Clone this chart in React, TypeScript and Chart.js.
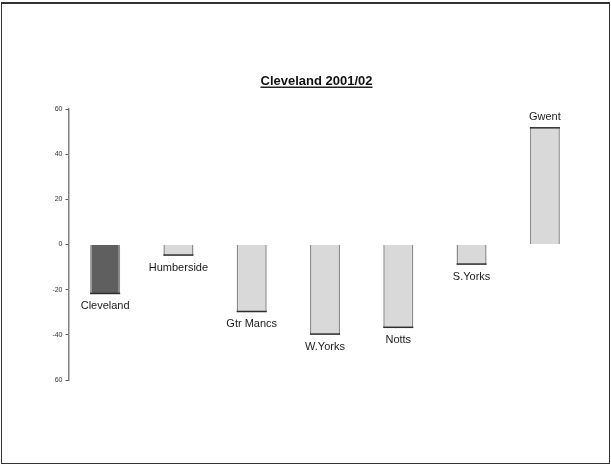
import React, { useEffect, useRef } from "react";
import { Chart, registerables } from "chart.js";

Chart.register(...registerables);

const categories = ["Cleveland", "Humberside", "Gtr Mancs", "W.Yorks", "Notts", "S.Yorks", "Gwent"];
const values = [-22, -5, -30, -40, -37, -9, 52];
const barColors = ["#5f5f5f", "#d9d9d9", "#d9d9d9", "#d9d9d9", "#d9d9d9", "#d9d9d9", "#d9d9d9"];
const tickValues = [60, 40, 20, 0, -20, -40, -60];
const tickLabels = ["60", "40", "20", "0", "-20", "-40", "60"];
const titleText = "Cleveland 2001/02";

const barLabelPlugin = {
  id: "barLabels",
  afterDatasetsDraw(chart: any) {
    const ctx = chart.ctx;
    const meta = chart.getDatasetMeta(0);
    ctx.save();
    // dark end edge of each bar
    meta.data.forEach((el: any) => {
      const half = el.width / 2;
      ctx.fillStyle = "#2e2e2e";
      const v = values[meta.data.indexOf(el)];
      const yy = v < 0 ? el.y - 1.5 : el.y;
      ctx.fillRect(el.x - half, yy, el.width, 1.5);
    });
    ctx.font = "11px 'Liberation Sans', Arial, sans-serif";
    ctx.fillStyle = "#1a1a1a";
    ctx.textAlign = "center";
    ctx.textBaseline = "middle";
    meta.data.forEach((el: any, i: number) => {
      const v = values[i];
      const y = v < 0 ? el.y + 12 : el.y - 10;
      ctx.fillText(categories[i], el.x, y);
    });
    ctx.restore();
  },
};

const titlePlugin = {
  id: "underlinedTitle",
  afterDraw(chart: any) {
    const ctx = chart.ctx;
    ctx.save();
    ctx.font = "bold 13px 'Liberation Sans', Arial, sans-serif";
    ctx.fillStyle = "#111";
    ctx.textAlign = "center";
    ctx.textBaseline = "alphabetic";
    const cx = 316.5;
    const by = 85;
    ctx.fillText(titleText, cx, by);
    const w = ctx.measureText(titleText).width;
    ctx.fillStyle = "#222";
    ctx.fillRect(cx - w / 2, by + 1.5, w, 1.5);
    ctx.restore();
  },
};

export default function App() {
  const ref = useRef<HTMLCanvasElement | null>(null);
  useEffect(() => {
    if (!ref.current) return;
    const chart = new Chart(ref.current, {
      type: "bar",
      data: {
        labels: categories,
        datasets: [
          {
            data: values,
            backgroundColor: barColors,
            borderColor: "#8c8c8c",
            borderWidth: { top: 0, bottom: 0, left: 1.5, right: 1.5 },
            borderSkipped: false,
            barPercentage: 0.41,
            categoryPercentage: 1,
          } as any,
        ],
      },
      options: {
        animation: false,
        responsive: false,
        maintainAspectRatio: false,
        layout: { padding: { left: 0, right: 29.5, top: 109, bottom: 84 } },
        plugins: {
          legend: { display: false },
          title: { display: false },
          tooltip: { enabled: false },
        },
        scales: {
          x: { display: false },
          y: {
            min: -60,
            max: 60,
            afterFit: (s: any) => {
              s.width = 68.5;
            },
            afterBuildTicks: (s: any) => {
              s.ticks = tickValues.map((v) => ({ value: v }));
            },
            border: { display: true, color: "#808080", width: 1.5 },
            grid: {
              drawOnChartArea: false,
              drawTicks: true,
              tickLength: 3,
              color: "#555",
              lineWidth: 1,
            },
            ticks: {
              padding: 3,
              color: "#333",
              font: { size: 7, family: "'Liberation Sans', Arial, sans-serif" },
              callback: (v: any) => {
                const i = tickValues.indexOf(Number(v));
                return i >= 0 ? tickLabels[i] : "";
              },
            },
          },
        },
      },
      plugins: [barLabelPlugin, titlePlugin],
    });
    return () => chart.destroy();
  }, []);
  return (
    <div style={{ position: "fixed", left: 0, top: 0, width: 611, height: 464, background: "#fff" }}>
      <div
        style={{
          position: "absolute",
          left: 1,
          top: 2,
          width: 609,
          height: 462,
          boxSizing: "border-box",
          borderStyle: "solid",
          borderColor: "#333",
          borderWidth: "2px 1px 1px 1px",
        }}
      />
      <canvas ref={ref} width={611} height={464} style={{ position: "absolute", left: 0, top: 0 }} />
    </div>
  );
}
